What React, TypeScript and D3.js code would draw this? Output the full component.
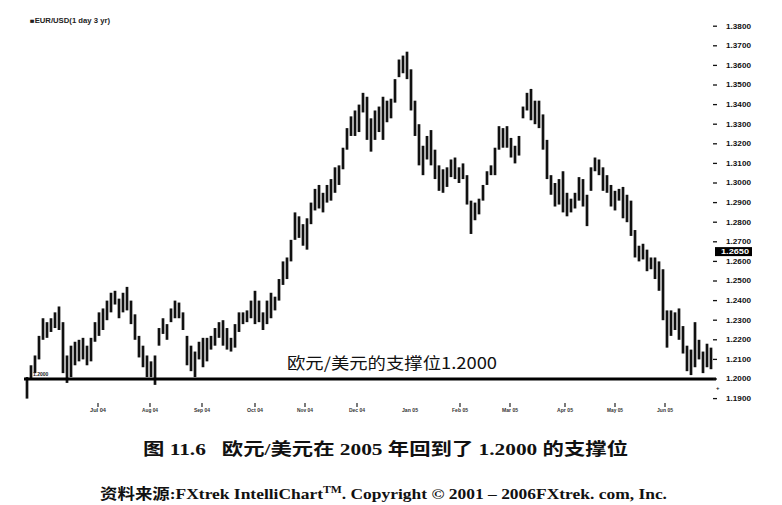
import * as d3 from 'd3';

// daily EUR/USD bars (high / low)
const highs = [
  1.201, 1.207, 1.212, 1.222, 1.231, 1.229, 1.231, 1.234, 1.237, 1.229,
  1.212, 1.217, 1.219, 1.220, 1.221, 1.217, 1.221, 1.229, 1.234, 1.236,
  1.240, 1.244, 1.245, 1.241, 1.244, 1.247, 1.240, 1.233, 1.222, 1.217,
  1.212, 1.209, 1.212, 1.226, 1.231, 1.228, 1.236, 1.240, 1.239, 1.234,
  1.222, 1.217, 1.214, 1.219,
  1.221, 1.221, 1.222, 1.226, 1.229, 1.230, 1.226, 1.221, 1.228, 1.234,
  1.234, 1.235, 1.240, 1.245, 1.240, 1.234, 1.240, 1.244, 1.242, 1.251,
  1.260, 1.262, 1.271, 1.285, 1.283, 1.279, 1.282, 1.290, 1.297, 1.299,
  1.295, 1.299, 1.302, 1.308, 1.309, 1.318, 1.328, 1.334, 1.337, 1.340,
  1.346, 1.344, 1.333, 1.337, 1.339, 1.344,
  1.342, 1.343, 1.353, 1.363, 1.365, 1.367, 1.358, 1.342, 1.330, 1.319,
  1.324, 1.327, 1.317, 1.309, 1.307, 1.308, 1.312, 1.313, 1.308, 1.310,
  1.304, 1.291, 1.290, 1.292, 1.299, 1.306, 1.309, 1.318, 1.329, 1.328,
  1.329, 1.323, 1.319, 1.324, 1.339, 1.346, 1.348, 1.342, 1.342, 1.335,
  1.322, 1.304, 1.300, 1.302, 1.306,
  1.295, 1.292, 1.295, 1.303, 1.302, 1.294, 1.308, 1.313, 1.312, 1.308,
  1.304, 1.299, 1.296, 1.297, 1.298, 1.294, 1.291, 1.276, 1.268, 1.269,
  1.266, 1.262, 1.262, 1.260, 1.256, 1.235, 1.235, 1.234, 1.236, 1.227,
  1.217, 1.215, 1.229, 1.220, 1.214, 1.218, 1.216,
];
const lows = [
  1.190, 1.200, 1.203, 1.210, 1.220, 1.221, 1.224, 1.226, 1.225, 1.203,
  1.198, 1.201, 1.207, 1.209, 1.210, 1.207, 1.209, 1.219, 1.222, 1.225,
  1.230, 1.234, 1.238, 1.231, 1.234, 1.235, 1.228, 1.220, 1.211, 1.206,
  1.201, 1.201, 1.197, 1.217, 1.223, 1.220, 1.229, 1.231, 1.231, 1.225,
  1.207, 1.204, 1.201, 1.210,
  1.206, 1.209, 1.215, 1.217, 1.221, 1.217, 1.215, 1.214, 1.216, 1.224,
  1.228, 1.229, 1.231, 1.228, 1.229, 1.225, 1.228, 1.231, 1.235, 1.240,
  1.248, 1.251, 1.260, 1.271, 1.272, 1.268, 1.266, 1.279, 1.286, 1.287,
  1.285, 1.290, 1.291, 1.295, 1.299, 1.307, 1.317, 1.324, 1.324, 1.326,
  1.336, 1.322, 1.316, 1.322, 1.326, 1.322,
  1.331, 1.333, 1.341, 1.354, 1.356, 1.353, 1.337, 1.324, 1.309, 1.304,
  1.312, 1.309, 1.302, 1.296, 1.295, 1.298, 1.303, 1.302, 1.300, 1.302,
  1.289, 1.274, 1.281, 1.284, 1.291, 1.299, 1.304, 1.304, 1.317, 1.318,
  1.318, 1.313, 1.310, 1.314, 1.333, 1.337, 1.332, 1.330, 1.328, 1.317,
  1.302, 1.294, 1.288, 1.289, 1.285,
  1.283, 1.285, 1.287, 1.291, 1.288, 1.278, 1.296, 1.306, 1.304, 1.296,
  1.295, 1.288, 1.286, 1.291, 1.282, 1.280, 1.273, 1.262, 1.260, 1.261,
  1.255, 1.256, 1.251, 1.245, 1.230, 1.216, 1.222, 1.225, 1.220, 1.213,
  1.204, 1.202, 1.206, 1.210, 1.203, 1.206, 1.205,
];

const priceTicks = d3.range(1.19, 1.3801, 0.01);
const monthTickIdx = [17.75, 30.75, 43.75, 57, 69.5, 82.5, 95.75, 108.25, 120.75, 134.5, 147, 159.5];
const monthLabels = ['Jul 04', 'Aug 04', 'Sep 04', 'Oct 04', 'Nov 04', 'Dec 04', 'Jan 05', 'Feb 05', 'Mar 05', 'Apr 05', 'May 05', 'Jun 05'];
const supportLevel = 1.2;
const lastPrice = 1.265;

export default function App() {
  const x = d3.scaleLinear().domain([0, highs.length - 1]).range([27, 711]);
  const y = d3.scaleLinear().domain([1.19, 1.38]).range([398.6, 26.2]);
  const axisX = 713;

  return (
    <svg width={782} height={505} style={{ position: 'absolute', left: 0, top: 0, background: '#fff' }}
      fontFamily="'Liberation Sans', Arial, sans-serif">
      <rect width={782} height={505} fill="#fff" />

      {/* title of the chart window */}
      <text x={30} y={23} fontSize={6.5} fontWeight="bold" fill="#222" textLength={80} lengthAdjust="spacingAndGlyphs">
        ■EUR/USD(1 day 3 yr)
      </text>

      {/* price bars */}
      <g stroke="#111" strokeWidth={2.7}>
        {highs.map((h, i) => (
          <line key={i} x1={x(i)} x2={x(i)} y1={y(h)} y2={y(lows[i])} />
        ))}
      </g>

      {/* support line */}
      <line x1={24} x2={716} y1={y(supportLevel)} y2={y(supportLevel)} stroke="#000" strokeWidth={3.2} />
      <text x={33} y={y(supportLevel) - 3} fontSize={5} fontWeight="bold" fill="#222">1.2000</text>
      <text x={287} y={369} fontSize={16} fill="#111" textLength={210} lengthAdjust="spacingAndGlyphs"
        fontFamily="'Noto Sans CJK SC', 'Liberation Sans', sans-serif">
        欧元/美元的支撑位1.2000
      </text>

      {/* right price axis */}
      <g fontSize={6.5} fontWeight="bold" fill="#111">
        {priceTicks.map((p, i) => (
          <g key={i}>
            <line x1={axisX} x2={axisX + 4} y1={y(p)} y2={y(p)} stroke="#111" strokeWidth={1.3} />
            <text x={axisX + 13} y={y(p) + 2.3} textLength={25} lengthAdjust="spacingAndGlyphs">{p.toFixed(4)}</text>
          </g>
        ))}
      </g>
      <rect x={axisX + 2} y={y(lastPrice) - 4.5} width={37} height={9} fill="#000" />
      <text x={axisX + 8} y={y(lastPrice) + 2.3} fontSize={6.5} fontWeight="bold" fill="#fff" textLength={28} lengthAdjust="spacingAndGlyphs">{lastPrice.toFixed(4)}</text>
      <text x={axisX + 3} y={390} fontSize={6} fontWeight="bold" fill="#111">+</text>

      {/* time axis */}
      <g fontSize={4.5} fontWeight="bold" fill="#333">
        {monthTickIdx.map((t, i) => (
          <g key={i}>
            {i !== 6 && <line x1={x(t)} x2={x(t)} y1={403} y2={407} stroke="#222" strokeWidth={1.2} />}
            <text x={x(t)} y={412} textAnchor="middle" textLength={16} lengthAdjust="spacingAndGlyphs">{monthLabels[i]}</text>
          </g>
        ))}
      </g>

      {/* caption */}
      <text x={143} y={455} fontSize={17} fontWeight="bold" fill="#111" textLength={485} lengthAdjust="spacingAndGlyphs"
        fontFamily="'Liberation Serif', 'Noto Sans CJK SC', serif">
        图 11.6{'\u00a0\u00a0\u00a0'}欧元/美元在 2005 年回到了 1.2000 的支撑位
      </text>
      <text x={100} y={499} fontSize={15} fontWeight="bold" fill="#111" textLength={567} lengthAdjust="spacingAndGlyphs"
        fontFamily="'Liberation Serif', 'Noto Sans CJK SC', serif">
        资料来源:FXtrek IntelliChart<tspan fontSize={10} dy={-6}>TM</tspan><tspan dy={6}>. Copyright © 2001 – 2006FXtrek. com, Inc.</tspan>
      </text>
    </svg>
  );
}
